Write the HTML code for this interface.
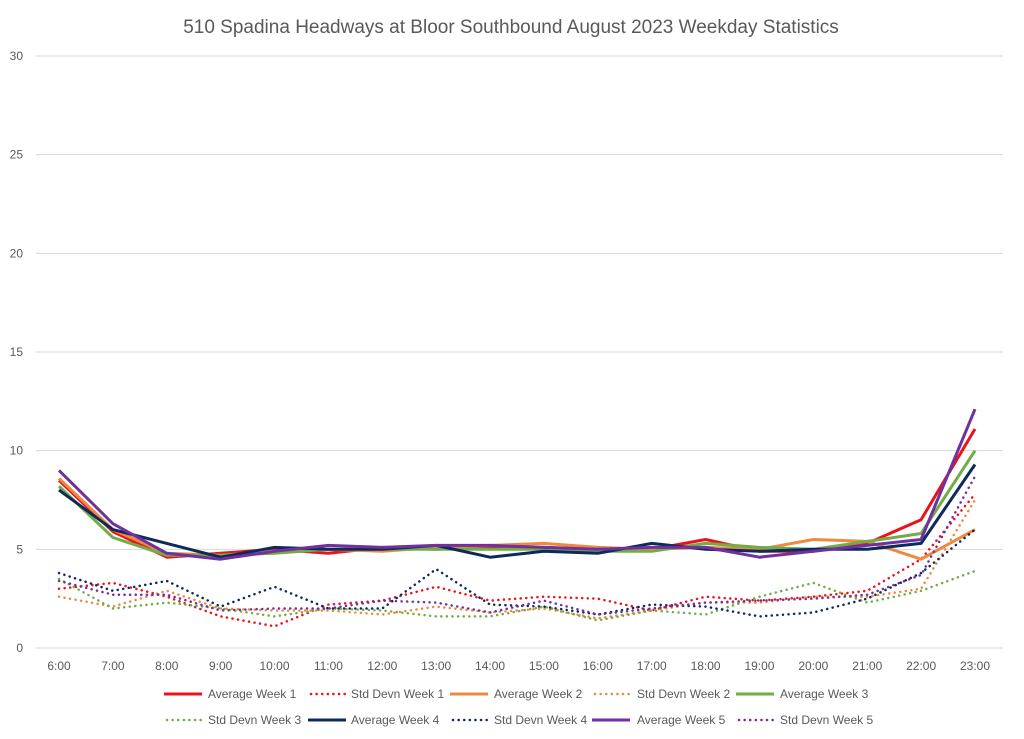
<!DOCTYPE html>
<html><head><meta charset="utf-8"><style>
body{margin:0;background:#fff;}
svg{display:block;font-family:"Liberation Sans",sans-serif;}
</style></head><body>
<svg id="chart" width="1024" height="739" xmlns="http://www.w3.org/2000/svg">
<text x="511" y="33" text-anchor="middle" font-size="19" fill="#595959">510 Spadina Headways at Bloor Southbound August 2023 Weekday Statistics</text>
<g id="grid"></g><g id="series"></g><g id="legend"></g>
</svg>
<script>
const categories=["6:00","7:00","8:00","9:00","10:00","11:00","12:00","13:00","14:00","15:00","16:00","17:00","18:00","19:00","20:00","21:00","22:00","23:00"];
const yTicks=[0,5,10,15,20,25,30];
const avgW1=[8.5,5.9,4.6,4.8,5.0,4.8,5.1,5.0,5.1,5.1,5.0,5.0,5.5,4.9,4.9,5.3,6.5,11.1];
const avgW2=[8.6,6.0,4.8,4.7,4.9,5.0,4.9,5.1,5.2,5.3,5.1,5.0,5.1,5.0,5.5,5.4,4.5,6.0];
const avgW3=[8.2,5.6,4.7,4.7,4.8,5.0,5.0,5.0,5.0,5.0,4.9,4.9,5.3,5.1,5.0,5.4,5.8,10.0];
const avgW4=[8.0,6.0,5.3,4.6,5.1,5.0,5.0,5.2,4.6,4.9,4.8,5.3,5.0,4.9,5.0,5.0,5.3,9.3];
const avgW5=[9.0,6.3,4.8,4.5,4.9,5.2,5.1,5.2,5.2,5.1,5.0,5.1,5.1,4.6,4.9,5.2,5.5,12.1];
const sdW1=[3.0,3.3,2.6,1.6,1.1,2.2,2.4,3.1,2.4,2.6,2.5,1.9,2.6,2.4,2.6,2.9,4.5,7.8];
const sdW2=[2.6,2.1,2.9,2.0,1.9,1.9,1.7,2.1,1.8,2.0,1.5,1.9,2.3,2.3,2.6,2.6,3.0,7.5];
const sdW3=[3.5,2.0,2.3,2.0,1.6,2.0,1.9,1.6,1.6,2.1,1.4,1.9,1.7,2.6,3.3,2.3,2.9,3.9];
const sdW4=[3.8,2.9,3.4,2.1,3.1,2.0,2.0,4.0,2.2,2.1,1.7,2.2,2.1,1.6,1.8,2.5,3.8,6.0];
const sdW5=[3.4,2.7,2.7,1.9,2.0,2.0,2.4,2.3,1.8,2.4,1.7,2.0,2.3,2.4,2.5,2.7,3.7,8.7];
const NS="http://www.w3.org/2000/svg";
const x0=59,x1=975,y0=648,yTop=56,yMax=30;
function xs(i){return x0+i*(x1-x0)/(categories.length-1);}
function ys(v){return y0-v*(y0-yTop)/yMax;}
function mk(t,a,p){const e=document.createElementNS(NS,t);for(const k in a)e.setAttribute(k,a[k]);p.appendChild(e);return e;}
const grid=document.getElementById('grid');
yTicks.forEach(v=>{
 const l=mk('line',{x1:36,x2:1003,y1:ys(v),y2:ys(v),stroke:'#d9d9d9','stroke-width':1},grid);
 
 
 const t=mk('text',{x:23,y:ys(v)+4,'text-anchor':'end','font-size':12,fill:'#595959'},grid);t.textContent=v;
 
 
});
categories.forEach((c,i)=>{
 const t=mk('text',{x:xs(i),y:670,'text-anchor':'middle','font-size':12,fill:'#595959'},grid);t.textContent=c;
 
 
});
const series=[
 ["Average Week 1",avgW1,"#e8141a",false],["Std Devn Week 1",sdW1,"#e8141a",true],
 ["Average Week 2",avgW2,"#ed8a3f",false],["Std Devn Week 2",sdW2,"#ed8a3f",true],
 ["Average Week 3",avgW3,"#70ad47",false],["Std Devn Week 3",sdW3,"#70ad47",true],
 ["Average Week 4",avgW4,"#0e2a5c",false],["Std Devn Week 4",sdW4,"#0e2a5c",true],
 ["Average Week 5",avgW5,"#7030a0",false],["Std Devn Week 5",sdW5,"#7030a0",true]];
const sg=document.getElementById('series');
series.forEach(s=>{
 const d=s[1].map((v,i)=>(i?'L':'M')+xs(i).toFixed(1)+' '+ys(v).toFixed(1)).join(' ');
 const a={d:d,fill:'none',stroke:s[2],'stroke-width':s[3]?2.5:3,'stroke-linejoin':'round'};
 if(s[3]){a['stroke-dasharray']='0.1 5.5';a['stroke-linecap']='round';}
 const p=mk('path',a,sg);
 
 
});
const lx=[[164,208],[308,351],[450,494],[592,637],[736,780]];
const lg=document.getElementById('legend');
series.forEach((s,k)=>{
 const row=Math.floor(k/5)===0?0:1;
 const idx=k%5;
 const pos=lx[idx];const y=row?720:694;
 const a={x1:pos[0],x2:pos[0]+38,y1:y,y2:y,stroke:s[2],'stroke-width':s[3]?2.5:3};
 if(s[3]){a['stroke-dasharray']='0.1 5.5';a['stroke-linecap']='round';a.x1=pos[0]+3;}
 const l=mk('line',a,lg);
 
 
 const t=mk('text',{x:pos[1],y:y+4,'font-size':12,fill:'#595959'},lg);t.textContent=s[0];
 
 
});
</script>
</body></html>
